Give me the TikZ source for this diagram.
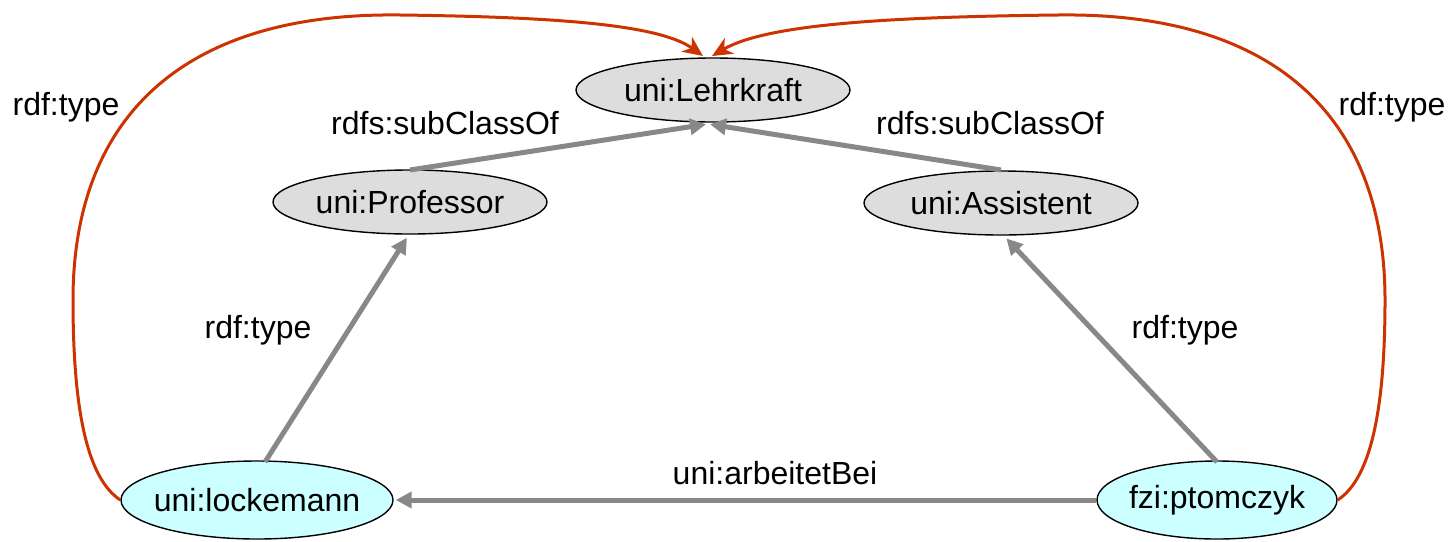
\documentclass[tikz,border=0pt]{standalone}
\usepackage{fontspec}
\setmainfont{Liberation Sans}
\usetikzlibrary{shapes.geometric,arrows.meta}
\definecolor{classfill}{HTML}{DDDDDD}
\definecolor{instfill}{HTML}{CCFFFF}
\definecolor{edgegray}{HTML}{888888}
\definecolor{typered}{HTML}{CC3300}
\begin{document}
\begin{tikzpicture}[x=0.5pt,y=-0.5pt,
  every node/.style={font=\fontsize{16}{19}\selectfont},
  oval/.style={ellipse,draw=black,line width=0.7pt,inner sep=0pt,
    label={[inner sep=0pt,anchor=center]center:#1}},
  cls/.style={oval=#1,fill=classfill,minimum width=137pt,minimum height=32pt},
  inst/.style={oval=#1,fill=instfill,minimum height=39pt},
  rel/.style={draw=edgegray,line width=2.5pt,-{Triangle[length=8pt,width=8pt]},shorten >=1pt},
  redrel/.style={draw=typered,line width=1.5pt,-{Stealth[length=10pt,width=9pt,inset=3pt]}},
  lbl/.style={inner sep=0pt}]
\useasboundingbox (0,0) rectangle (1454,541);

% classes
\node[cls=uni:Lehrkraft] (lehr) at (713,90) {};
\node[cls=uni:Professor] (prof) at (410,202) {};
\node[cls=uni:Assistent] (asst) at (1001,203) {};
% instances
\node[inst=uni:lockemann,minimum width=136pt] (lock) at (257,500) {};
\node[inst=fzi:ptomczyk,minimum width=120pt] (ptom) at (1217,500) {};

% anchor points on the ovals
\coordinate (lehrB) at (708,124);
\coordinate (profT) at (410,170);
\coordinate (asstT) at (1001,170);
\coordinate (profB) at (408,236);
\coordinate (asstB) at (1005,237);
\coordinate (lockT) at (265,462);
\coordinate (ptomT) at (1217,462);
\coordinate (lehrT) at (703,56);
\coordinate (lehrT2) at (712,56);

% gray relations
\draw[rel] (profT) -- (lehrB);
\draw[rel] (asstT) -- (lehrB);
\draw[rel] (lockT) -- (profB);
\draw[rel] (ptomT) -- (asstB);
\draw[rel] (ptom.west) -- (lock.east);

% red rdf:type arcs
\draw[redrel] (lock.west) .. controls (90,480) and (73,420) .. (73,300)
  .. controls (73,120) and (180,12) .. (400,15)
  .. controls (560,17) and (660,25) .. (lehrT);
\draw[redrel] (ptom.east) .. controls (1368,480) and (1385,420) .. (1385,300)
  .. controls (1385,120) and (1278,12) .. (1058,15)
  .. controls (880,17) and (765,25) .. (lehrT2);

% labels
\node[lbl] (l1) at (66,107) {rdf:type};
\node[lbl] (l2) at (1392,107) {rdf:type};
\node[lbl] (l3) at (445,123) {rdfs:subClassOf};
\node[lbl] (l4) at (990,123) {rdfs:subClassOf};
\node[lbl] (l5) at (258,330) {rdf:type};
\node[lbl] (l6) at (1185,330) {rdf:type};
\node[lbl] (l7) at (775,473) {uni:arbeitetBei};
\end{tikzpicture}
\end{document}
